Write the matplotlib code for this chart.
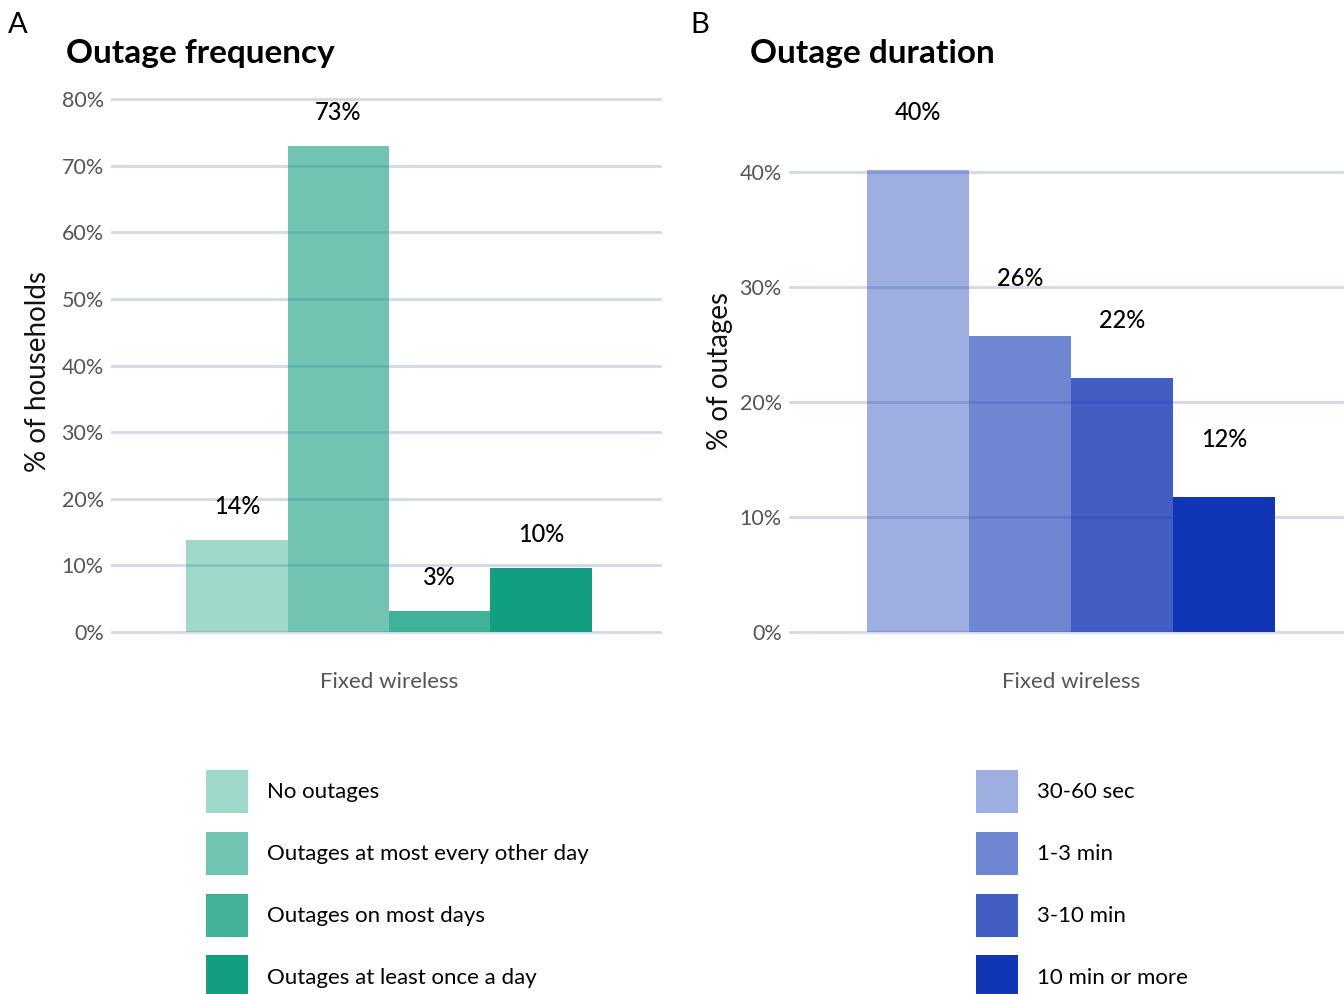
import matplotlib

matplotlib.use("Agg")
import matplotlib.pyplot as plt  # noqa: E402
from matplotlib.patches import Patch  # noqa: E402

plt.rcParams["font.family"] = ["Lato", "DejaVu Sans"]

# data
freq_cats = ["No outages", "Outages at most every other day",
             "Outages on most days", "Outages at least once a day"]
freq_vals = [13.8, 73.0, 3.2, 9.6]
freq_labels = ["14%", "73%", "3%", "10%"]

dur_cats = ["30-60 sec", "1-3 min", "3-10 min", "10 min or more"]
dur_vals = [40.2, 25.7, 22.1, 11.7]
dur_labels = ["40%", "26%", "22%", "12%"]

group = "Fixed wireless"
alphas = [0.4, 0.6, 0.8, 1.0]
TEAL = "#129e80"
BLUE = "#1036b6"
GRID = "#d3d8e6"
W, H = 1344, 994


def px(x0, y0, x1, y1):
    """pixel box (top-left origin) -> figure fraction rect"""
    return [x0 / W, 1 - y1 / H, (x1 - x0) / W, (y1 - y0) / H]


def panel(fig, rect, vals, labels, cats, color, ymax, ticks, ylabel, title,
          title_x, letter, letter_x, ylabel_x, legend_x, shift_px):
    ax = fig.add_axes(rect)
    w = 0.222
    xs = [1 + (i - 1.5) * w for i in range(len(vals))]
    for x, v, lab, a in zip(xs, vals, labels, alphas):
        ax.bar(x, v, w, color=color, alpha=a, linewidth=0, zorder=2)
        ax.text(x, v + 5, lab, ha="center", va="center", fontsize=17,
                fontweight="medium", color="black", clip_on=False)
    # ggplot-style discrete range, nudged to match the original centring
    d = shift_px / (rect[2] * W) * 1.2
    ax.set_xlim(0.4 - d, 1.6 - d)
    ax.set_ylim(0, ymax)
    ax.set_yticks(ticks)
    ax.set_yticklabels([f"{t}%" for t in ticks])
    ax.set_xticks([1])
    ax.set_xticklabels([group], fontsize=16)
    ax.tick_params(axis="both", length=0, labelcolor="#555555")
    ax.tick_params(axis="y", labelsize=15.5, pad=6)
    ax.tick_params(axis="x", pad=29)
    ax.grid(axis="y", color=GRID, lw=2, zorder=0)
    ax.set_axisbelow(True)
    for gl in ax.get_ygridlines():
        gl.set_clip_on(False)
    for s in ax.spines.values():
        s.set_visible(False)
    fig.text(ylabel_x / W, 1 - 371 / H, ylabel, rotation=90, ha="center",
             va="center", fontsize=20, color="#111111")
    fig.text(title_x / W, 1 - 53 / H, title, ha="left", va="center",
             fontsize=24, fontweight="bold")
    fig.text(letter_x / W, 1 - 25 / H, letter, ha="left", va="center",
             fontsize=21)
    handles = [Patch(facecolor=color, alpha=a, edgecolor="none") for a in alphas]
    fig.legend(handles, cats, loc="upper left",
               bbox_to_anchor=(legend_x / W, 1 - 752 / H), frameon=False,
               fontsize=16, handlelength=1.9, handleheight=2.6,
               labelspacing=0.85, handletextpad=0.85, borderpad=0.3)
    return ax


fig = plt.figure(figsize=(W / 100, H / 100), dpi=100)

panel(fig, px(112, 99, 660, 632), freq_vals, freq_labels, freq_cats, TEAL,
      80, list(range(0, 81, 10)), "% of households", "Outage frequency",
      66, "A", 8, 38, 188, 3)
panel(fig, px(790, 114.5, 1342, 632), dur_vals, dur_labels, dur_cats, BLUE,
      45, list(range(0, 41, 10)), "% of outages", "Outage duration",
      750, "B", 690, 720, 958, 5)

fig.savefig("out.png", dpi=100)
